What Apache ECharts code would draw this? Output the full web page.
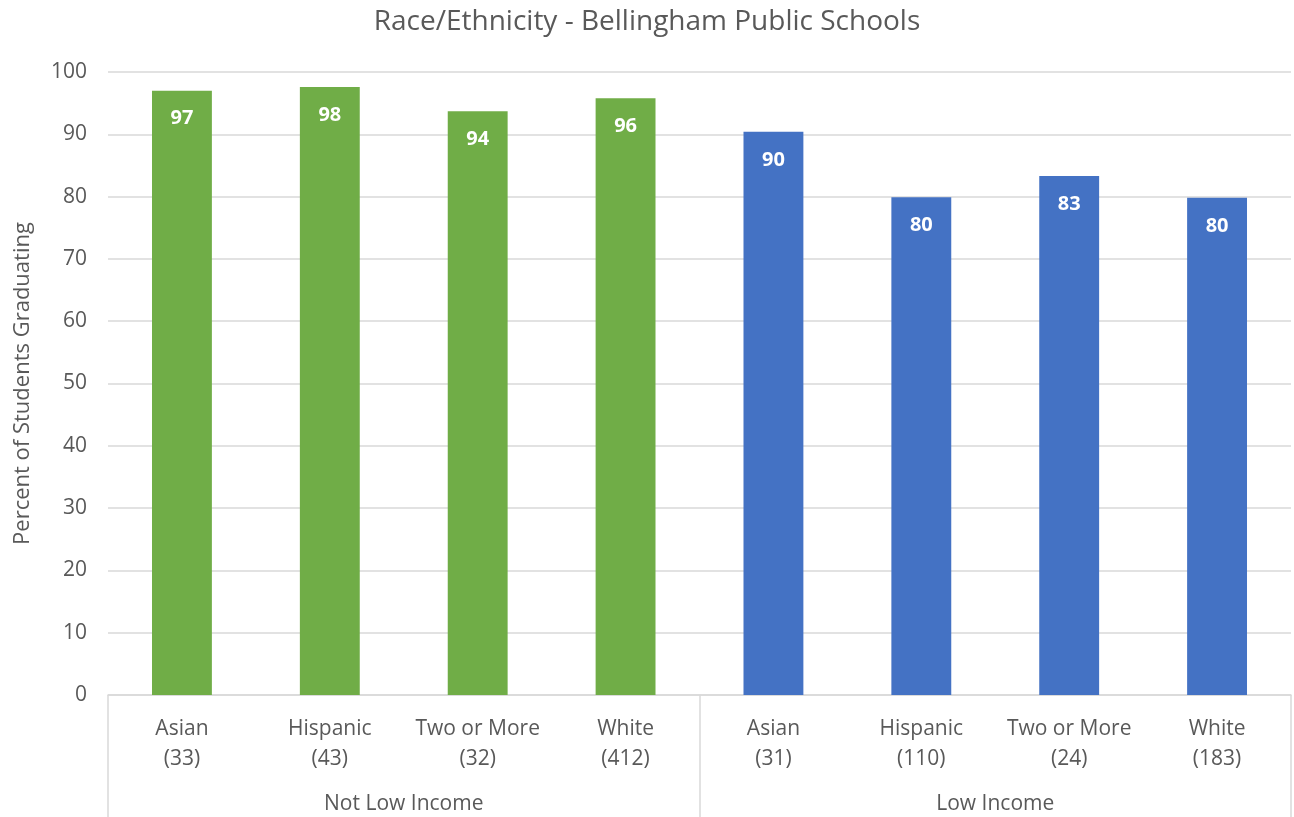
<!DOCTYPE html>
<html>
<head>
<meta charset="utf-8">
<script src="https://cdn.jsdelivr.net/npm/echarts@6/dist/echarts.min.js"></script>
<style>
html,body{margin:0;padding:0;background:#fff;}
#chart{width:1294px;height:817px;}
</style>
</head>
<body>
<div id="chart"></div>
<script>
const races = ["Asian", "Hispanic", "Two or More", "White", "Asian", "Hispanic", "Two or More", "White"];
const counts = [33, 43, 32, 412, 31, 110, 24, 183];
const values = [97, 97.6, 93.7, 95.8, 90.4, 79.9, 83.3, 79.8];
const groups = ["Not Low Income", "Low Income"];
const groupOfBar = [0, 0, 0, 0, 1, 1, 1, 1];
const groupColors = ["#70ad47", "#4472c4"];
const yTicks = [0, 10, 20, 30, 40, 50, 60, 70, 80, 90, 100];

const FONT = "Open Sans";
const categories = races.map((r, i) => r + "\n(" + counts[i] + ")");

const chart = echarts.init(document.getElementById('chart'), null, {renderer: 'canvas'});
chart.setOption({
  animation: false,
  textStyle: {fontFamily: FONT},
  title: {
    text: "Race/Ethnicity - Bellingham Public Schools",
    left: 'center',
    top: 3,
    textStyle: {fontFamily: FONT, fontSize: 28, fontWeight: 'normal', color: '#595959'}
  },
  grid: {left: 108, right: 3, top: 72, bottom: 122, containLabel: false},
  xAxis: [
    {
      type: 'category',
      data: categories,
      position: 'bottom',
      axisLine: {show: true, lineStyle: {color: '#d9d9d9', width: 1.5}},
      axisTick: {show: false},
      axisLabel: {
        interval: 0, margin: 19, color: '#595959', fontSize: 21, lineHeight: 30,
        fontFamily: FONT
      }
    },
    {
      type: 'category',
      data: groups,
      position: 'bottom',
      axisLine: {show: false},
      axisTick: {show: true, length: 122, interval: 0, lineStyle: {color: '#d9d9d9', width: 1.5}},
      axisLabel: {interval: 0, margin: 99, color: '#595959', fontSize: 21, fontFamily: FONT},
      splitLine: {show: false}
    }
  ],
  yAxis: {
    type: 'value',
    min: yTicks[0],
    max: yTicks[yTicks.length - 1],
    interval: 10,
    name: "Percent of Students Graduating",
    nameLocation: 'middle',
    nameGap: 74,
    nameRotate: 90,
    nameTextStyle: {fontFamily: FONT, fontSize: 22, color: '#595959'},
    axisLine: {show: false},
    axisTick: {show: false},
    axisLabel: {margin: 21, color: '#595959', fontSize: 21, fontFamily: FONT},
    splitLine: {lineStyle: {color: '#d9d9d9', width: 1.5}}
  },
  series: [{
    type: 'bar',
    xAxisIndex: 0,
    barWidth: '40.5%',
    data: values.map((v, i) => ({value: v, itemStyle: {color: groupColors[groupOfBar[i]]}})),
    label: {
      show: true,
      position: 'insideTop',
      distance: 18,
      color: '#ffffff',
      fontWeight: 'bold',
      fontSize: 20,
      fontFamily: FONT,
      formatter: p => Math.round(p.value)
    }
  }]
});
</script>
</body>
</html>
